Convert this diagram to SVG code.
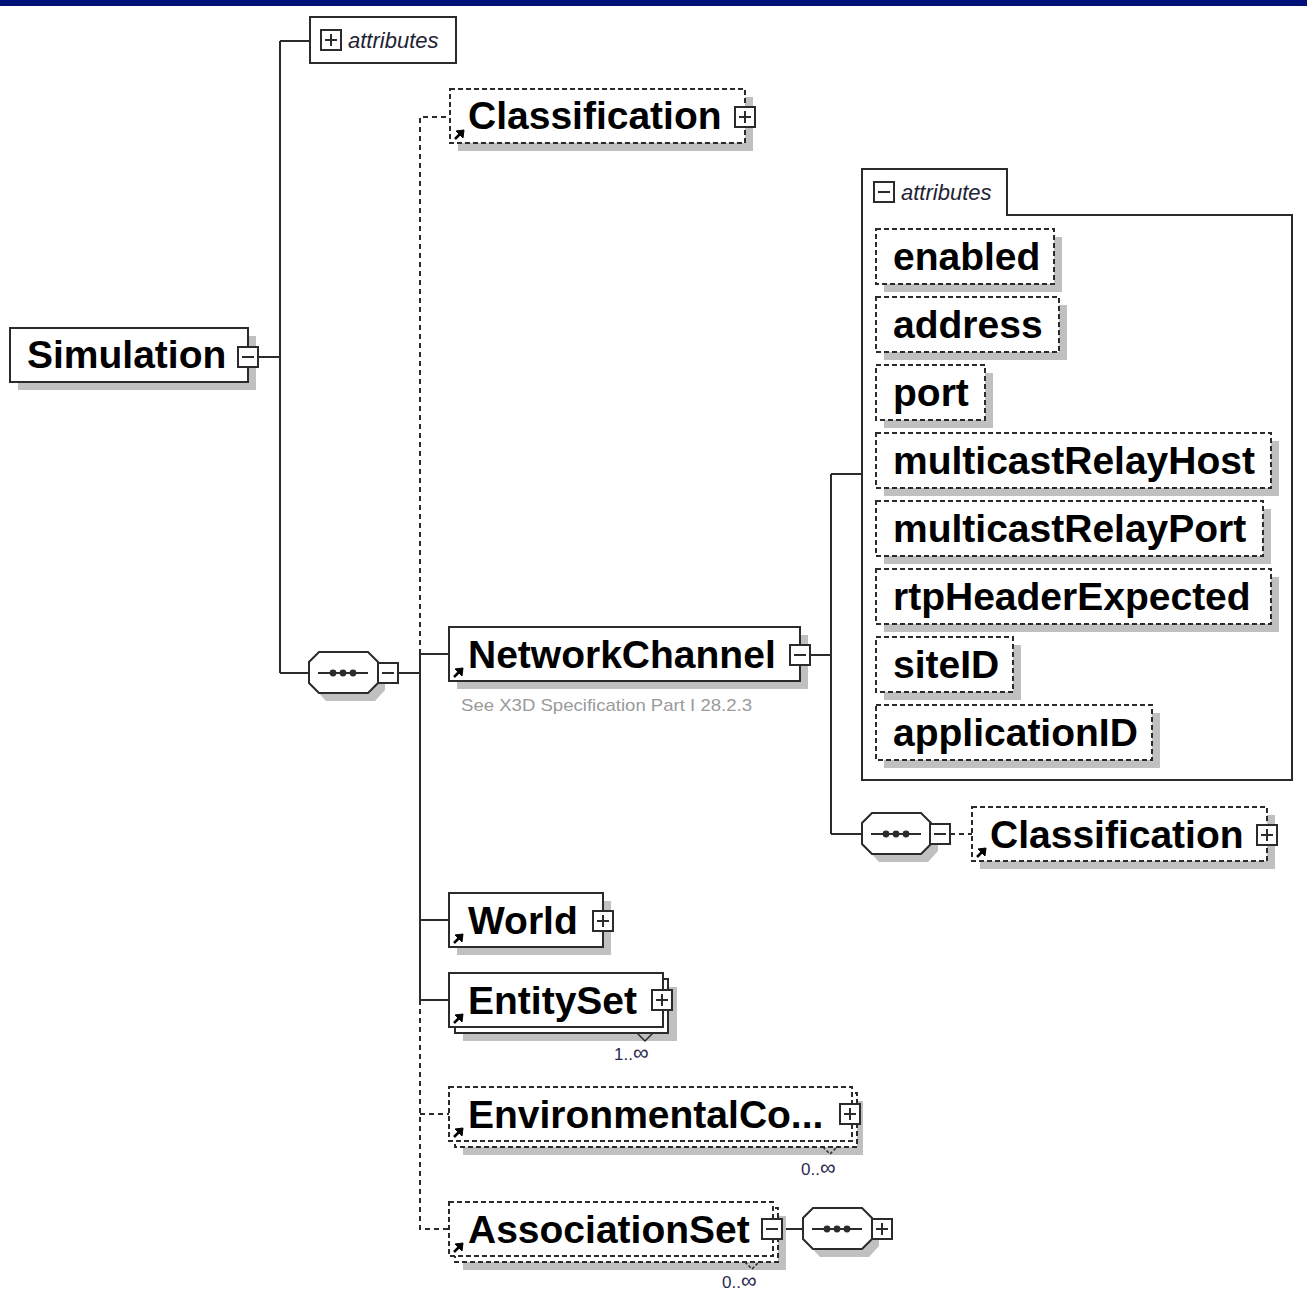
<svg xmlns="http://www.w3.org/2000/svg" width="1307" height="1292" viewBox="0 0 1307 1292">
  <style>
    .sh { fill: #c0c0c0; stroke: none; }
    .box { fill: #ffffff; stroke: #2b2b2b; stroke-width: 2; }
    .dbox { fill: #ffffff; stroke: #2b2b2b; stroke-width: 2; stroke-dasharray: 5 3; }
    .ln { fill: none; stroke: #2b2b2b; stroke-width: 2; }
    .dln { fill: none; stroke: #2b2b2b; stroke-width: 2; stroke-dasharray: 5 4; }
    .name { font-family: "Liberation Sans", Arial, sans-serif; font-weight: bold; font-size: 39px; fill: #000000; }
    .attrs { font-family: "Liberation Sans", Arial, sans-serif; font-style: italic; font-size: 22px; fill: #222233; }
    .note { font-family: "Liberation Sans", Arial, sans-serif; font-size: 17px; fill: #9a9a9a; }
    .mult { font-family: "Liberation Sans", Arial, sans-serif; font-size: 17px; fill: #2a2a50; }
    .inf { font-size: 22px; }
    .btn { fill: #ffffff; stroke: #2b2b2b; stroke-width: 2; }
    .sign { fill: none; stroke: #2b2b2b; stroke-width: 2; }
    .ref { fill: #000000; stroke: #000000; stroke-width: 1; }
  </style>
  <defs>
    <!-- expand / collapse buttons, 20x20, origin at top-left -->
    <g id="plus">
      <rect class="btn" x="0" y="0" width="20" height="20"/>
      <path class="sign" d="M4 10 H16 M10 4 V16"/>
    </g>
    <g id="minus">
      <rect class="btn" x="0" y="0" width="20" height="20"/>
      <path class="sign" d="M4 10 H16"/>
    </g>
    <!-- element reference marker, origin at box bottom-left -->
    <g id="refmark">
      <path class="ln" d="M5 -4 L11 -10" style="stroke:#000;stroke-width:2.5"/>
      <path class="ref" d="M14 -13 L6 -12 L13 -5 Z"/>
    </g>
    <!-- sequence compositor, origin at left-middle -->
    <g id="seq">
      <path class="sh" d="M17 -13 L66 -13 L76 -3 L76 17 L66 28 L17 28 L7 17 L7 -3 Z"/>
      <path class="box" d="M10 -21 L59 -21 L69 -11 L69 10 L59 20 L10 20 L0 10 L0 -11 Z"/>
      <path class="ln" d="M9 0 H59"/>
      <circle cx="24" cy="0" r="3.4" fill="#2b2b2b"/>
      <circle cx="34" cy="0" r="3.4" fill="#2b2b2b"/>
      <circle cx="44" cy="0" r="3.4" fill="#2b2b2b"/>
    </g>
  </defs>

  <rect x="0" y="0" width="1307" height="1292" fill="#ffffff"/>
  <rect x="0" y="0" width="1307" height="6" fill="#00127a"/>

  <!-- connectors -->
  <g id="connectors">
    <path class="ln" d="M258 357 H280 M280 41 V673 M280 41 H310 M280 673 H309"/>
    <path class="ln" d="M398 673 H420 M420 654 V1000"/>
    <path class="dln" d="M420 654 V117 H450"/>
    <path class="dln" d="M420 1000 V1229 H449 M420 1114 H449"/>
    <path class="ln" d="M420 654 H449 M420 920 H449 M420 1000 H449"/>
    <path class="ln" d="M810 655 H831 M831 474 V834 M831 474 H862 M831 834 H862"/>
    <path class="dln" d="M950 834 H972"/>
    <path class="ln" d="M782 1229 H803"/>
  </g>

  <!-- root element -->
  <g id="node-simulation">
    <rect class="sh" x="18" y="336" width="238" height="54"/>
    <rect class="box" x="10" y="328" width="238" height="54"/>
    <text class="name" x="27" y="368">Simulation</text>
    <use href="#minus" x="238" y="347"/>
  </g>

  <!-- collapsed attribute group of the root -->
  <g id="node-simulation-attributes">
    <rect class="box" x="310" y="17" width="146" height="46"/>
    <use href="#plus" x="321" y="30"/>
    <text class="attrs" x="348" y="48">attributes</text>
  </g>

  <g id="node-seq-main">
    <use href="#seq" x="309" y="673"/>
    <use href="#minus" x="378" y="663"/>
  </g>

  <g id="node-classification">
    <rect class="sh" x="458" y="97" width="295" height="54"/>
    <rect class="dbox" x="450" y="89" width="295" height="54"/>
    <text class="name" x="468" y="129">Classification</text>
    <use href="#refmark" x="450" y="143"/>
    <use href="#plus" x="735" y="107"/>
  </g>

  <g id="node-networkchannel">
    <rect class="sh" x="457" y="635" width="351" height="54"/>
    <rect class="box" x="449" y="627" width="351" height="54"/>
    <text class="name" x="468" y="668">NetworkChannel</text>
    <use href="#refmark" x="449" y="681"/>
    <use href="#minus" x="790" y="645"/>
    <text class="note" x="461" y="711" textLength="291" lengthAdjust="spacingAndGlyphs">See X3D Specification Part I 28.2.3</text>
  </g>

  <!-- expanded attribute panel of NetworkChannel -->
  <g id="node-networkchannel-attributes">
    <path class="box" d="M862 780 V169 H1007 V215 H1292 V780 Z"/>
    <use href="#minus" x="874" y="182"/>
    <text class="attrs" x="901" y="200">attributes</text>

    <g id="attr-enabled">
      <rect class="sh" x="884" y="237" width="178" height="55"/>
      <rect class="dbox" x="876" y="229" width="178" height="55"/>
      <text class="name" x="893" y="270">enabled</text>
    </g>
    <g id="attr-address">
      <rect class="sh" x="884" y="305" width="183" height="55"/>
      <rect class="dbox" x="876" y="297" width="183" height="55"/>
      <text class="name" x="893" y="338">address</text>
    </g>
    <g id="attr-port">
      <rect class="sh" x="884" y="373" width="109" height="55"/>
      <rect class="dbox" x="876" y="365" width="109" height="55"/>
      <text class="name" x="893" y="406">port</text>
    </g>
    <g id="attr-multicastRelayHost">
      <rect class="sh" x="884" y="441" width="395" height="55"/>
      <rect class="dbox" x="876" y="433" width="395" height="55"/>
      <text class="name" x="893" y="474">multicastRelayHost</text>
    </g>
    <g id="attr-multicastRelayPort">
      <rect class="sh" x="884" y="509" width="387" height="55"/>
      <rect class="dbox" x="876" y="501" width="387" height="55"/>
      <text class="name" x="893" y="542">multicastRelayPort</text>
    </g>
    <g id="attr-rtpHeaderExpected">
      <rect class="sh" x="884" y="577" width="395" height="55"/>
      <rect class="dbox" x="876" y="569" width="395" height="55"/>
      <text class="name" x="893" y="610">rtpHeaderExpected</text>
    </g>
    <g id="attr-siteID">
      <rect class="sh" x="884" y="645" width="137" height="55"/>
      <rect class="dbox" x="876" y="637" width="137" height="55"/>
      <text class="name" x="893" y="678">siteID</text>
    </g>
    <g id="attr-applicationID">
      <rect class="sh" x="884" y="713" width="276" height="55"/>
      <rect class="dbox" x="876" y="705" width="276" height="55"/>
      <text class="name" x="893" y="746">applicationID</text>
    </g>
  </g>

  <g id="node-seq-networkchannel">
    <use href="#seq" x="862" y="834"/>
    <use href="#minus" x="930" y="824"/>
  </g>

  <g id="node-classification-2">
    <rect class="sh" x="980" y="815" width="295" height="54"/>
    <rect class="dbox" x="972" y="807" width="295" height="54"/>
    <text class="name" x="990" y="848">Classification</text>
    <use href="#refmark" x="972" y="861"/>
    <use href="#plus" x="1257" y="825"/>
  </g>

  <g id="node-world">
    <rect class="sh" x="457" y="901" width="154" height="54"/>
    <rect class="box" x="449" y="893" width="154" height="54"/>
    <text class="name" x="468" y="934">World</text>
    <use href="#refmark" x="449" y="947"/>
    <use href="#plus" x="593" y="911"/>
  </g>

  <g id="node-entityset">
    <rect class="sh" x="463" y="987" width="214" height="54"/>
    <rect class="box" x="455" y="979" width="213" height="54"/>
    <rect class="box" x="449" y="973" width="214" height="54"/>
    <text class="name" x="468" y="1014">EntitySet</text>
    <use href="#refmark" x="449" y="1027"/>
    <use href="#plus" x="652" y="990"/>
    <path class="ln" d="M637 1033 L645 1041 L653 1033" style="stroke-width:1.5"/>
    <text class="mult" x="614" y="1060">1..<tspan class="inf">∞</tspan></text>
  </g>

  <g id="node-environmentalcontainer">
    <rect class="sh" x="463" y="1101" width="400" height="54"/>
    <rect class="dbox" x="455" y="1093" width="402" height="54"/>
    <rect class="dbox" x="449" y="1087" width="403" height="54"/>
    <text class="name" x="468" y="1128">EnvironmentalCo...</text>
    <use href="#refmark" x="449" y="1141"/>
    <use href="#plus" x="840" y="1104"/>
    <path class="dln" d="M823 1147 L830 1154 L837 1147" style="stroke-width:1.5;stroke-dasharray:3 2"/>
    <text class="mult" x="801" y="1175">0..<tspan class="inf">∞</tspan></text>
  </g>

  <g id="node-associationset">
    <rect class="sh" x="463" y="1216" width="323" height="54"/>
    <rect class="dbox" x="455" y="1208" width="323" height="54"/>
    <rect class="dbox" x="449" y="1202" width="324" height="54"/>
    <text class="name" x="468" y="1243">AssociationSet</text>
    <use href="#refmark" x="449" y="1256"/>
    <use href="#minus" x="762" y="1219"/>
    <path class="dln" d="M745 1262 L752 1269 L759 1262" style="stroke-width:1.5;stroke-dasharray:3 2"/>
    <text class="mult" x="722" y="1288">0..<tspan class="inf">∞</tspan></text>
  </g>

  <g id="node-seq-associationset">
    <use href="#seq" x="803" y="1229"/>
    <use href="#plus" x="872" y="1219"/>
  </g>
</svg>
